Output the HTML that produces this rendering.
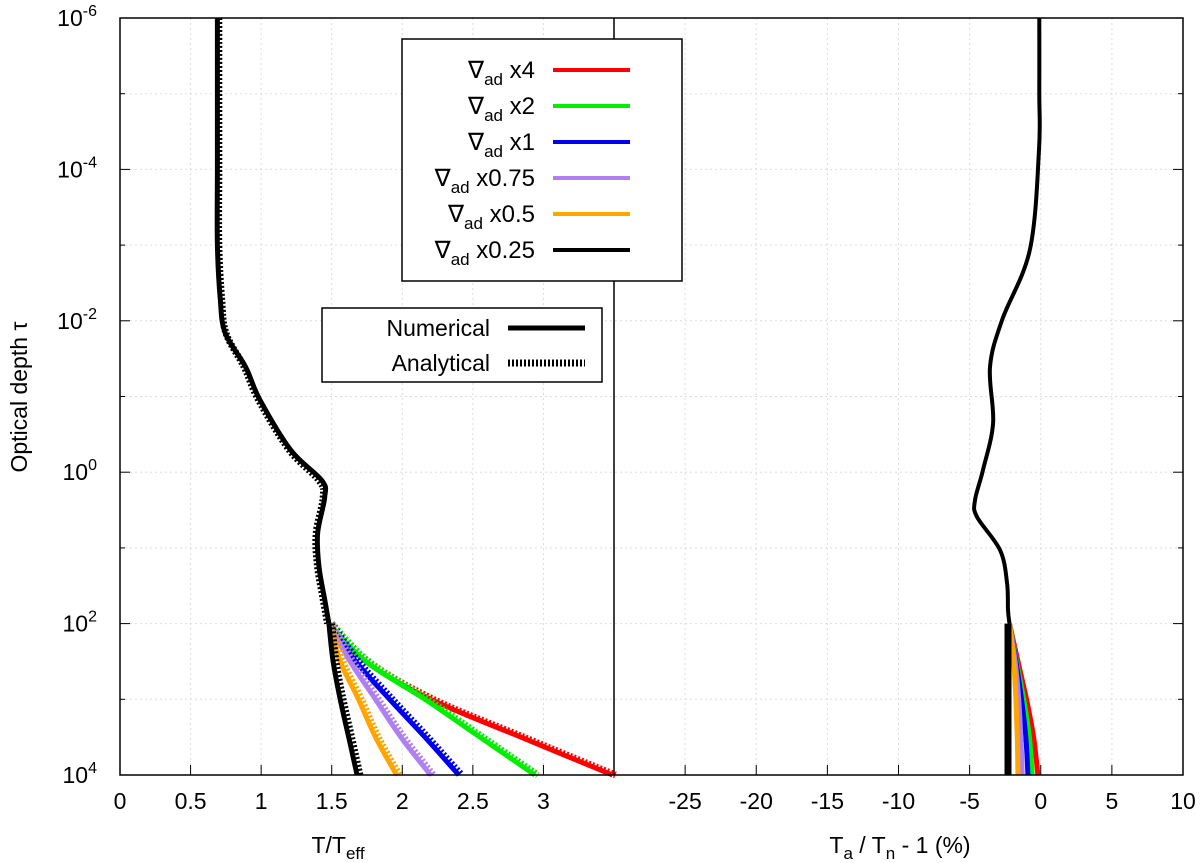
<!DOCTYPE html>
<html><head><meta charset="utf-8"><style>
body{margin:0;background:#fff}
svg{display:block;font-family:"Liberation Sans",sans-serif}
</style></head><body>
<svg id="chart" width="1200" height="863" viewBox="0 0 1200 863" xmlns="http://www.w3.org/2000/svg">
<g id="grid"></g>
<g id="marks"></g>
<g id="axes"></g>
<g>
<rect x="402" y="39" width="280" height="242" fill="#fff" stroke="#000" stroke-width="1.5"/>
<g id="leg1" font-size="24" text-anchor="end"></g>
</g>
<g>
<rect x="322" y="308" width="280" height="74" fill="#fff" stroke="#000" stroke-width="1.5"/>
<text x="490" y="336" font-size="23" text-anchor="end">Numerical</text>
<line x1="508" y1="328" x2="585" y2="328" stroke="#000" stroke-width="5"/>
<text x="490" y="371" font-size="23" text-anchor="end">Analytical</text>
<line x1="508" y1="363" x2="585" y2="363" stroke="#000" stroke-width="7" stroke-dasharray="2,2"/>
</g>
<text transform="translate(27,397) rotate(-90)" font-size="23" text-anchor="middle">Optical depth τ</text>
<text x="338" y="853" font-size="23" text-anchor="middle">T/T<tspan font-size="17" dy="6">eff</tspan></text>
<text x="900" y="853" font-size="23" text-anchor="middle">T<tspan font-size="17" dy="6">a</tspan><tspan dy="-6"> / T</tspan><tspan font-size="17" dy="6">n</tspan><tspan dy="-6"> - 1 (%)</tspan></text>
</svg>
<script>
// data
const commonLogTau=[-6,-5,-4,-3,-2.3,-1.84,-1.39,-0.96,-0.29,0.11,0.33,0.81,1.25,1.68,2];
const commonT=[0.69,0.69,0.69,0.69,0.71,0.745,0.89,0.99,1.21,1.43,1.45,1.40,1.41,1.45,1.48];
const commonTAnalytic=[0.70,0.70,0.70,0.70,0.72,0.75,0.88,0.98,1.20,1.41,1.44,1.39,1.40,1.44,1.47];
const devLogTau=[-6,-5,-4.26,-2.94,-2.01,-1.39,-0.65,-0.03,0.37,0.59,1.03,1.46,1.82,2];
const commonDev=[-0.1,-0.1,-0.12,-0.76,-2.72,-3.57,-3.35,-4.06,-4.62,-4.48,-2.86,-2.37,-2.3,-2.2];
const branchLogTau=[2,2.5,3,3.5,4];
const branchNames=["x4","x2","x1","x0.75","x0.5","x0.25"];
const branchColors=["#ff0000","#00ee00","#0000ee","#b080f0","#ffa500","#000000"];
const branchT=[
 [1.48,1.74,2.20,2.84,3.49],
 [1.48,1.74,2.16,2.55,2.94],
 [1.48,1.67,1.91,2.16,2.40],
 [1.48,1.63,1.81,1.99,2.20],
 [1.48,1.56,1.69,1.81,1.96],
 [1.48,1.51,1.56,1.62,1.68]];
const branchDev=[
 [-2.2,-1.6,-1.0,-0.5,-0.2],
 [-2.2,-1.7,-1.2,-0.8,-0.6],
 [-2.2,-1.75,-1.35,-1.05,-0.9],
 [-2.2,-1.8,-1.55,-1.4,-1.3],
 [-2.2,-1.9,-1.75,-1.65,-1.6],
 [-2.3,-2.3,-2.3,-2.3,-2.3]];
const leftTicks=["0","0.5","1","1.5","2","2.5","3"];
const rightTicks=["-25","-20","-15","-10","-5","0","5","10"];
const yTickExp=[-6,-4,-2,0,2,4];

const NS="http://www.w3.org/2000/svg";
const L=120,M=614,R=1183,T=18,B=775;
const xl=v=>L+(v/3.5)*(M-L);
const xr=v=>M+(v+30)/40*(R-M);
const y=lt=>T+(lt+6)/10*(B-T);
function mk(tag,attrs,parent){const e=document.createElementNS(NS,tag);for(const k in attrs)e.setAttribute(k,attrs[k]);parent.appendChild(e);return e;}
const grid=document.getElementById('grid'),marks=document.getElementById('marks'),axes=document.getElementById('axes');
for(let d=-5;d<=3;d++){const g=mk('line',{x1:L,x2:R,y1:y(d),y2:y(d),stroke:'#ddd','stroke-dasharray':'2,3'},grid);

}
leftTicks.forEach(t=>{const v=+t;if(v>0){const g=mk('line',{x1:xl(v),x2:xl(v),y1:T,y2:B,stroke:'#ddd','stroke-dasharray':'2,3'},grid);

}});
rightTicks.forEach(t=>{const v=+t;const g=mk('line',{x1:xr(v),x2:xr(v),y1:T,y2:B,stroke:'#ddd','stroke-dasharray':'2,3'},grid);

});
function path(xs,ys,fx,attrs,name){
 const P=xs.map((v,i)=>[fx(v),y(ys[i])]);
 let d='M'+P[0][0].toFixed(1)+','+P[0][1].toFixed(1);
 for(let i=0;i<P.length-1;i++){
  const p0=P[Math.max(0,i-1)],p1=P[i],p2=P[i+1],p3=P[Math.min(P.length-1,i+2)];
  const c1=[p1[0]+(p2[0]-p0[0])/6,p1[1]+(p2[1]-p0[1])/6],c2=[p2[0]-(p3[0]-p1[0])/6,p2[1]-(p3[1]-p1[1])/6];
  d+='C'+c1.map(n=>n.toFixed(1))+' '+c2.map(n=>n.toFixed(1))+' '+p2.map(n=>n.toFixed(1));
 }
 const p=mk('path',Object.assign({d:d,fill:'none','stroke-linejoin':'round'},attrs),marks);
 
 return p;}
for(let i=0;i<branchT.length;i++){
 path(branchT[i].map(v=>v+0.02),branchLogTau,xl,{stroke:branchColors[i],'stroke-width':7,'stroke-dasharray':'2,2'},'analytical-'+branchNames[i]);
 path(branchT[i],branchLogTau,xl,{stroke:branchColors[i],'stroke-width':5},'numerical-'+branchNames[i]);
}
path(commonTAnalytic,commonLogTau,xl,{stroke:'#000','stroke-width':7,'stroke-dasharray':'2,2'},'analytical-common');
path(commonT,commonLogTau,xl,{stroke:'#000','stroke-width':5},'numerical-common');
for(let i=0;i<branchDev.length;i++){
 path(branchDev[i],branchLogTau,xr,{stroke:branchColors[i],'stroke-width':i==5?7:5},'deviation-'+branchNames[i]);
}
path(commonDev,devLogTau,xr,{stroke:'#000','stroke-width':4},'deviation-common');
const fr=mk('rect',{x:L,y:T,width:R-L,height:B-T,fill:'none',stroke:'#000','stroke-width':1.5},axes);


const dv=mk('line',{x1:M,x2:M,y1:T,y2:B,stroke:'#000','stroke-width':1.5},axes);


for(let d=-6;d<=4;d++){mk('line',{x1:L,x2:L+(d%2==0?10:5),y1:y(d),y2:y(d),stroke:'#000'},axes);mk('line',{x1:R,x2:R-(d%2==0?10:5),y1:y(d),y2:y(d),stroke:'#000'},axes);}
yTickExp.forEach(e=>{const t=mk('text',{x:97,y:y(e)+8,'font-size':23,'text-anchor':'end'},axes);


t.innerHTML='10<tspan font-size="16" dy="-10">'+e+'</tspan>';});
leftTicks.forEach(s=>{const v=+s;mk('line',{x1:xl(v),x2:xl(v),y1:B,y2:B-10,stroke:'#000'},axes);
const t=mk('text',{x:xl(v),y:809,'font-size':23,'text-anchor':'middle'},axes);


t.textContent=s;});
rightTicks.forEach(s=>{const v=+s;mk('line',{x1:xr(v),x2:xr(v),y1:B,y2:B-10,stroke:'#000'},axes);
const t=mk('text',{x:xr(v),y:809,'font-size':23,'text-anchor':'middle'},axes);


t.textContent=s;});
const leg=document.getElementById('leg1');
branchNames.forEach((n,i)=>{const yy=70+i*36;
const t=mk('text',{x:535,y:yy+8},leg);


t.innerHTML='∇<tspan font-size="17" dy="7">ad</tspan><tspan dy="-7"> '+n+'</tspan>';
const l=mk('line',{x1:553,x2:630,y1:yy,y2:yy,stroke:branchColors[i],'stroke-width':4},leg);

});
</script>
</body></html>
